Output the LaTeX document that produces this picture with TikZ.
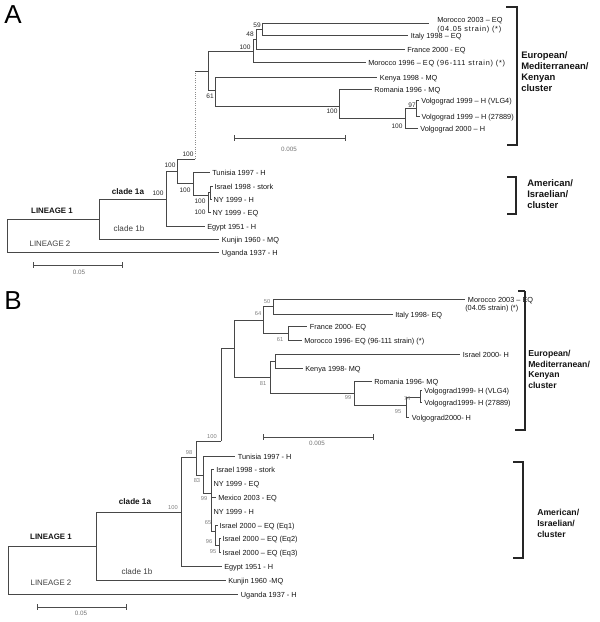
\documentclass[tikz,border=0pt]{standalone}
\usepackage{fontspec}
\setmainfont{Liberation Sans}
\newcommand{\leaffnt}{\fontsize{5.5pt}{6.6pt}\selectfont}
\newcommand{\bsAfnt}{\fontsize{4.9pt}{5.9pt}\selectfont}
\newcommand{\bsBfnt}{\fontsize{4.3pt}{5.2pt}\selectfont}
\newcommand{\sclfnt}{\fontsize{4.7pt}{5.6pt}\selectfont}
\newcommand{\cladefnt}{\fontsize{6.1pt}{7.3pt}\selectfont}
\newcommand{\linfnt}{\fontsize{5.9pt}{7pt}\selectfont}
\newcommand{\clAfnt}{\fontsize{7.1pt}{8pt}\selectfont\bfseries}
\newcommand{\clBfnt}{\fontsize{6.5pt}{8pt}\selectfont\bfseries}
\newcommand{\widetxt}[1]{{\addfontfeature{LetterSpace=10}#1}}
\definecolor{linec}{gray}{0.28}
\definecolor{txtc}{gray}{0.08}
\tikzset{
  br/.style={draw=linec, line width=0.72pt},
  leaf/.style={anchor=mid west, inner sep=0pt, font=\leaffnt, text=txtc},
  bsA/.style={inner sep=0pt, font=\bsAfnt, text=black!85},
  bsB/.style={inner sep=0pt, font=\bsBfnt, text=black!50},
  scl/.style={inner sep=0pt, font=\sclfnt, text=black!55},
  sbar/.style={draw=black!70, line width=0.7pt},
  brk/.style={draw=black!85, line width=1.1pt},
  clA/.style={anchor=mid west, inner sep=0pt, font=\clAfnt, text=txtc},
  clB/.style={anchor=mid west, inner sep=0pt, font=\clBfnt, text=txtc},
}
\begin{document}
\begin{tikzpicture}[x=0.75pt,y=-0.75pt]
\path[use as bounding box] (0,0) rectangle (600,622);
% panel letters
\node[inner sep=0pt, font=\fontsize{19.5pt}{20pt}\selectfont] (letA) at (13,15) {A};
\node[inner sep=0pt, font=\fontsize{19.5pt}{20pt}\selectfont] (letB) at (13,301) {B};

%================ PANEL A =================
% internal nodes
\coordinate (a59) at (262,29);
\coordinate (a48) at (256,39);
\coordinate (a100u) at (253,51);
\coordinate (atop) at (208,71);
\coordinate (a61) at (215,90);
\coordinate (aRom) at (339,106);
\coordinate (aV) at (405,118);
\coordinate (a97) at (416,108);
\coordinate (a195) at (195,159);
\coordinate (a177) at (177,171);
\coordinate (a193) at (193,183);
\coordinate (a208) at (208,195);
\coordinate (a210) at (210,192);
\coordinate (a166) at (166,199);
\coordinate (a99) at (99,219);
\coordinate (aroot) at (7,219);
% leaf ends
\coordinate (aMor03) at (429,23);
\coordinate (aIta) at (408,35);
\coordinate (aFra) at (405,49);
\coordinate (aMor96) at (366,62);
\coordinate (aKen) at (377,77);
\coordinate (aRomL) at (372,89);
\coordinate (aVLG) at (419,100);
\coordinate (a278) at (420,116);
\coordinate (aV00) at (418,128);
\coordinate (aTun) at (210,172);
\coordinate (aStork) at (213,186);
\coordinate (aNYH) at (212,199);
\coordinate (aNYEQ) at (211,212);
\coordinate (aEgy) at (205,226);
\coordinate (aKun) at (219,239);
\coordinate (aUga) at (219,252);
% branches
\draw[br] (a59) |- (aMor03);
\draw[br] (a59) |- (aIta);
\draw[br] (a48) |- (a59);
\draw[br] (a48) |- (aFra);
\draw[br] (a100u) |- (a48);
\draw[br] (a100u) |- (aMor96);
\draw[br] (atop) |- (a100u);
\draw[br] (atop) |- (a61);
\draw[br] (a61) |- (aKen);
\draw[br] (a61) |- (aRom);
\draw[br] (aRom) |- (aRomL);
\draw[br] (aRom) |- (aV);
\draw[br] (aV) |- (a97);
\draw[br] (aV) |- (aV00);
\draw[br] (a97) |- (aVLG);
\draw[br] (a97) |- (a278);
\draw[br, draw=black!45, densely dotted] (a195) -- (a195 |- atop);
\draw[br] (a195 |- atop) -- (atop);
\draw[br] (a177) |- (a195);
\draw[br] (a177) |- (a193);
\draw[br] (a193) |- (aTun);
\draw[br] (a193) |- (a208);
\draw[br] (a208) |- (a210);
\draw[br] (a208) |- (aNYEQ);
\draw[br] (a210) |- (aStork);
\draw[br] (a210) |- (aNYH);
\draw[br] (a166) |- (a177);
\draw[br] (a166) |- (aEgy);
\draw[br] (a99) |- (a166);
\draw[br] (a99) |- (aKun);
\draw[br] (aroot) |- (a99);
\draw[br] (aroot) |- (aUga);
% leaf labels
\node[leaf] (tAMor03) at (437,19) {Morocco 2003 – EQ};
\node[leaf] (tAMor03b) at (437,27.5) {\widetxt{(04.05 strain) (*)}};
\node[leaf, xshift=2pt] (tAIta) at (aIta) {Italy 1998 – EQ};
\node[leaf, xshift=1.5pt] (tAFra) at (aFra) {France 2000 - EQ};
\node[leaf, xshift=1.5pt] (tAMor96) at (aMor96) {Morocco 1996 – \widetxt{EQ (96-111 strain) (*)}};
\node[leaf, xshift=2pt] (tAKen) at (aKen) {Kenya 1998 - MQ};
\node[leaf, xshift=1.5pt] (tARom) at (aRomL) {Romania 1996 - MQ};
\node[leaf, xshift=1.5pt] (tAVLG) at (aVLG) {Volgograd 1999 – H (VLG4)};
\node[leaf, xshift=1pt] (tA278) at (a278) {Volgograd 1999 – H (27889)};
\node[leaf, xshift=1.5pt] (tAV00) at (aV00) {Volgograd 2000 – H};
\node[leaf, xshift=1.5pt] (tATun) at (aTun) {Tunisia 1997 - H};
\node[leaf, xshift=1pt] (tAStork) at (aStork) {Israel 1998 - stork};
\node[leaf, xshift=1pt] (tANYH) at (aNYH) {NY 1999 - H};
\node[leaf, xshift=1pt] (tANYEQ) at (aNYEQ) {NY 1999 - EQ};
\node[leaf, xshift=1.5pt] (tAEgy) at (aEgy) {Egypt 1951 - H};
\node[leaf, xshift=2pt] (tAKun) at (aKun) {Kunjin 1960 - MQ};
\node[leaf, xshift=2pt] (tAUga) at (aUga) {Uganda 1937 - H};
% bootstrap labels
\node[bsA] (bA59) at (257,25) {59};
\node[bsA] (bA48) at (250,34) {48};
\node[bsA] (bA100a) at (245,47) {100};
\node[bsA] (bA61) at (210,96) {61};
\node[bsA] (bA100b) at (332,111) {100};
\node[bsA] (bA97) at (412,105) {97};
\node[bsA] (bA100c) at (397,126) {100};
\node[bsA] (bA100d) at (188,154) {100};
\node[bsA] (bA100e) at (170,165) {100};
\node[bsA] (bA100f) at (185,190) {100};
\node[bsA] (bA100g) at (158,193) {100};
\node[bsA] (bA100h) at (200,201) {100};
\node[bsA] (bA100i) at (200,212) {100};
% clade labels
\node[inner sep=0pt, font=\linfnt\bfseries, text=txtc] (aLin1) at (52,211) {LINEAGE 1};
\node[inner sep=0pt, font=\linfnt, text=black!75] (aLin2) at (50,244) {LINEAGE 2};
\node[inner sep=0pt, font=\cladefnt\bfseries, text=txtc] (aC1a) at (128,192) {clade 1a};
\node[inner sep=0pt, font=\cladefnt, text=black!75] (aC1b) at (129,229) {clade 1b};
% scale bars
\coordinate (aS1l) at (234,138); \coordinate (aS1r) at (345,138);
\draw[sbar] (aS1l) -- (aS1r);
\draw[sbar] ([yshift=-2pt]aS1l) -- ([yshift=2pt]aS1l);
\draw[sbar] ([yshift=-2pt]aS1r) -- ([yshift=2pt]aS1r);
\node[scl] (aS1t) at (289,149) {0.005};
\coordinate (aS2l) at (33,265); \coordinate (aS2r) at (122,265);
\draw[sbar] (aS2l) -- (aS2r);
\draw[sbar] ([yshift=-2pt]aS2l) -- ([yshift=2pt]aS2l);
\draw[sbar] ([yshift=-2pt]aS2r) -- ([yshift=2pt]aS2r);
\node[scl] (aS2t) at (79,272) {0.05};
% brackets
\draw[brk] (506,7) -- (517,7) -- (517,145) -- (507,145);
\draw[brk] (507,177) -- (516,177) -- (516,214) -- (507,214);
\node[clA] (aE1) at (521,55) {European/};
\node[clA] (aE2) at (521,66) {Mediterranean/};
\node[clA] (aE3) at (521,77) {Kenyan};
\node[clA] (aE4) at (521,87.5) {cluster};
\node[clA] (aAm1) at (527,183) {American/};
\node[clA] (aAm2) at (527,194) {Israelian/};
\node[clA] (aAm3) at (527,205) {cluster};

%================ PANEL B =================
\coordinate (b50) at (273,306);
\coordinate (b64) at (263,320);
\coordinate (b61) at (288,333);
\coordinate (b234) at (234,348);
\coordinate (b81) at (270,377);
\coordinate (bK) at (275,361);
\coordinate (b99) at (354,393);
\coordinate (b95) at (406,405);
\coordinate (b74) at (420,397);
\coordinate (b221) at (221,441);
\coordinate (b196) at (196,457);
\coordinate (b203) at (203,475);
\coordinate (b211) at (211,493);
\coordinate (b215) at (215,531);
\coordinate (b219) at (219,545);
\coordinate (b181) at (181,512);
\coordinate (b96) at (96,546);
\coordinate (broot) at (8,546);
% leaf ends
\coordinate (bMor03) at (465,299);
\coordinate (bIta) at (393,314);
\coordinate (bFra) at (307,326);
\coordinate (bMor96) at (302,340);
\coordinate (bIsr) at (460,354);
\coordinate (bKen) at (303,368);
\coordinate (bRom) at (372,381);
\coordinate (bVLG) at (422,390);
\coordinate (b278) at (422,402);
\coordinate (bV00) at (409,417);
\coordinate (bTun) at (235,456);
\coordinate (bStork) at (214,469);
\coordinate (bNYEQ) at (212,483);
\coordinate (bMex) at (216,497);
\coordinate (bNYH) at (212,511);
\coordinate (bEq1) at (218,525);
\coordinate (bEq2) at (221,538);
\coordinate (bEq3) at (221,552);
\coordinate (bEgy) at (222,566);
\coordinate (bKun) at (226,580);
\coordinate (bUga) at (238,594);
% branches
\draw[br] (b50) |- (bMor03);
\draw[br] (b50) |- (bIta);
\draw[br] (b64) |- (b50);
\draw[br] (b64) |- (b61);
\draw[br] (b61) |- (bFra);
\draw[br] (b61) |- (bMor96);
\draw[br] (b234) |- (b64);
\draw[br] (b234) |- (b81);
\draw[br] (b81) |- (bK);
\draw[br] (b81) |- (b99);
\draw[br] (bK) |- (bIsr);
\draw[br] (bK) |- (bKen);
\draw[br] (b99) |- (bRom);
\draw[br] (b99) |- (b95);
\draw[br] (b95) |- (b74);
\draw[br] (b95) |- (bV00);
\draw[br] (b74) |- (bVLG);
\draw[br] (b74) |- (b278);
\draw[br] (b221) |- (b234);
\draw[br] (b196) |- (b221);
\draw[br] (b196) |- (b203);
\draw[br] (b203) |- (bTun);
\draw[br] (b203) |- (b211);
\draw[br] (b211) |- (bStork);
\draw[br] (b211) |- (bNYEQ);
\draw[br] (b211) |- (bMex);
\draw[br] (b211) |- (bNYH);
\draw[br] (b211) |- (b215);
\draw[br] (b215) |- (bEq1);
\draw[br] (b215) |- (b219);
\draw[br] (b219) |- (bEq2);
\draw[br] (b219) |- (bEq3);
\draw[br] (b181) |- (b196);
\draw[br] (b181) |- (bEgy);
\draw[br] (b96) |- (b181);
\draw[br] (b96) |- (bKun);
\draw[br] (broot) |- (b96);
\draw[br] (broot) |- (bUga);
% leaf labels
\node[leaf, xshift=2pt] (tBMor03) at (bMor03) {Morocco 2003 – EQ};
\node[leaf] (tBMor03b) at (465,307) {(04.05 strain) (*)};
\node[leaf, xshift=1.5pt] (tBIta) at (bIta) {Italy 1998- EQ};
\node[leaf, xshift=2pt] (tBFra) at (bFra) {France 2000- EQ};
\node[leaf, xshift=1.5pt] (tBMor96) at (bMor96) {Morocco 1996- EQ (96-111 strain) (*)};
\node[leaf, xshift=2pt] (tBIsr) at (bIsr) {Israel 2000- H};
\node[leaf, xshift=1.5pt] (tBKen) at (bKen) {Kenya 1998- MQ};
\node[leaf, xshift=1.5pt] (tBRom) at (bRom) {Romania 1996- MQ};
\node[leaf, xshift=1.5pt] (tBVLG) at (bVLG) {Volgograd1999- H (VLG4)};
\node[leaf, xshift=1.5pt] (tB278) at (b278) {Volgograd1999- H (27889)};
\node[leaf, xshift=2pt] (tBV00) at (bV00) {Volgograd2000- H};
\node[leaf, xshift=2pt] (tBTun) at (bTun) {Tunisia 1997 - H};
\node[leaf, xshift=1.5pt] (tBStork) at (bStork) {Israel 1998 - stork};
\node[leaf, xshift=1pt] (tBNYEQ) at (bNYEQ) {NY 1999 - EQ};
\node[leaf, xshift=1.5pt] (tBMex) at (bMex) {Mexico 2003 - EQ};
\node[leaf, xshift=1pt] (tBNYH) at (bNYH) {NY 1999 - H};
\node[leaf, xshift=1pt] (tBEq1) at (bEq1) {Israel 2000 – EQ (Eq1)};
\node[leaf, xshift=1pt] (tBEq2) at (bEq2) {Israel 2000 – EQ (Eq2)};
\node[leaf, xshift=1pt] (tBEq3) at (bEq3) {Israel 2000 – EQ (Eq3)};
\node[leaf, xshift=1.5pt] (tBEgy) at (bEgy) {Egypt 1951 - H};
\node[leaf, xshift=1.5pt] (tBKun) at (bKun) {Kunjin 1960 -MQ};
\node[leaf, xshift=2pt] (tBUga) at (bUga) {Uganda 1937 - H};
% bootstrap labels
\node[bsB] (bB50) at (267,302) {50};
\node[bsB] (bB64) at (258,314) {64};
\node[bsB] (bB61) at (280,340) {61};
\node[bsB] (bB81) at (263,384) {81};
\node[bsB] (bB99) at (348,398) {99};
\node[bsB] (bB95) at (398,412) {95};
\node[bsB] (bB74) at (407,399) {74};
\node[bsB] (bB100a) at (212,437) {100};
\node[bsB] (bB98) at (189,453) {98};
\node[bsB] (bB83) at (197,481) {83};
\node[bsB] (bB99b) at (204,499) {99};
\node[bsB] (bB65) at (208,523) {65};
\node[bsB] (bB96) at (209,542) {96};
\node[bsB] (bB95b) at (213,552) {95};
\node[bsB] (bB100b) at (173,508) {100};
% clade labels
\node[inner sep=0pt, font=\linfnt\bfseries, text=txtc] (bLin1) at (51,537) {LINEAGE 1};
\node[inner sep=0pt, font=\linfnt, text=black!75] (bLin2) at (51,583) {LINEAGE 2};
\node[inner sep=0pt, font=\cladefnt\bfseries, text=txtc] (bC1a) at (135,502) {clade 1a};
\node[inner sep=0pt, font=\cladefnt, text=black!75] (bC1b) at (137,572) {clade 1b};
% scale bars
\coordinate (bS1l) at (263,437); \coordinate (bS1r) at (373,437);
\draw[sbar] (bS1l) -- (bS1r);
\draw[sbar] ([yshift=-2pt]bS1l) -- ([yshift=2pt]bS1l);
\draw[sbar] ([yshift=-2pt]bS1r) -- ([yshift=2pt]bS1r);
\node[scl] (bS1t) at (317,443) {0.005};
\coordinate (bS2l) at (37,607); \coordinate (bS2r) at (126,607);
\draw[sbar] (bS2l) -- (bS2r);
\draw[sbar] ([yshift=-2pt]bS2l) -- ([yshift=2pt]bS2l);
\draw[sbar] ([yshift=-2pt]bS2r) -- ([yshift=2pt]bS2r);
\node[scl] (bS2t) at (81,613) {0.05};
% brackets
\draw[brk, line width=2pt] (518,291) -- (525,291);
\draw[brk] (525,291) -- (525,430) -- (515,430);
\draw[brk] (513,462) -- (523,462) -- (523,558) -- (513,558);
\node[clB] (bE1) at (528,353) {European/};
\node[clB] (bE2) at (528,363.5) {Mediterranean/};
\node[clB] (bE3) at (528,374) {Kenyan};
\node[clB] (bE4) at (528,385) {cluster};
\node[clB] (bAm1) at (537,512) {American/};
\node[clB] (bAm2) at (537,523) {Israelian/};
\node[clB] (bAm3) at (537,534) {cluster};
\end{tikzpicture}
\end{document}
